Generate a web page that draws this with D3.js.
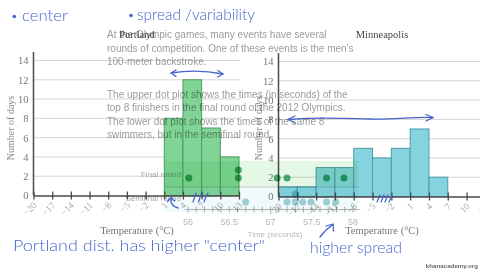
<!DOCTYPE html>
<html>
<head>
<meta charset="utf-8">
<script src="https://cdn.jsdelivr.net/npm/d3@7"></script>
<style>
  html, body { margin: 0; padding: 0; background: #fff; }
  svg { display: block; }
</style>
</head>
<body>
<svg id="chart" width="480" height="270"></svg>
<script>
// Temperature histograms: bin edges in °C (three degrees wide)
const binEdges = [-20, -17, -14, -11, -8, -5, -2, 1, 4, 7, 10, 13];
const portlandDays = [0, 0, 0, 0, 0, 0, 0, 8, 12, 7, 4];
const minneapolisDays = [1, 1, 3, 3, 5, 4, 5, 7, 2, 0, 0];
const dayTicks = [0, 2, 4, 6, 8, 10, 12, 14];
const panelTitles = ["Portland", "Minneapolis"];

// 100 m backstroke times (seconds) for the two dot plots
const finalTimes = [56.01, 56.61, 56.61, 57.08, 57.2, 57.68, 57.89];
const semifinalTimes = [56.7, 57.2, 57.3, 57.3, 57.39, 57.49, 57.68, 57.79];
const timeTicks = [56, 56.5, 57, 57.5, 58];
const rowLabels = ["Final round", "Semifinal round"];

// Exercise prompt text
const introLines = [
  "At the Olympic games, many events have several",
  "rounds of competition. One of these events is the men's",
  "100-meter backstroke."
];
const dotPlotLines = [
  "The upper dot plot shows the times (in seconds) of the",
  "top 8 finishers in the final round of the 2012 Olympics.",
  "The lower dot plot shows the times of the same 8",
  "swimmers, but in the semifinal round."
];

// Pen notes
const notes = {
  center: "center",
  spread: "spread /variability",
  portland: "Portland dist. has higher \"center\"",
  higher: "higher spread"
};

const svg = d3.select("#chart");
const serif = "'Liberation Serif', 'Times New Roman', serif";
const sans = "'Liberation Sans', Arial, sans-serif";
const axisInk = "#4a4a4a";

// ---------- two histogram panels ----------
const panels = [
  { title: panelTitles[0], days: portlandDays, fill: "#80d596", stroke: "#4f9a63",
    left: 33.5, right: 239, base: 195.5, top: 60.5, gridEnd: 240, cx: 137, yLabX: 10 },
  { title: panelTitles[1], days: minneapolisDays, fill: "#84d3df", stroke: "#4f9ba7",
    left: 278.5, right: 485.4, base: 196.5, top: 61.5, gridEnd: 480, cx: 382, yLabX: 258 }
];

panels.forEach(p => {
  const x = d3.scaleLinear().domain([binEdges[0], binEdges[binEdges.length - 1]]).range([p.left, p.right]);
  const y = d3.scaleLinear().domain([0, 14]).range([p.base, p.top]);
  const g = svg.append("g");

  g.selectAll("line.grid").data(dayTicks.slice(1)).join("line")
    .attr("class", "grid")
    .attr("x1", p.left).attr("x2", p.gridEnd)
    .attr("y1", d => y(d)).attr("y2", d => y(d))
    .attr("stroke", "#d5d5d5").attr("stroke-width", 1);

  const bins = p.days.map((v, i) => ({ x0: binEdges[i], x1: binEdges[i + 1], v })).filter(b => b.v > 0);
  g.selectAll("rect.bar").data(bins).join("rect")
    .attr("class", "bar")
    .attr("x", b => x(b.x0)).attr("width", b => x(b.x1) - x(b.x0))
    .attr("y", b => y(b.v)).attr("height", b => y(0) - y(b.v))
    .attr("fill", p.fill).attr("stroke", p.stroke).attr("stroke-width", 1);

  const ya = g.append("g").attr("transform", `translate(${p.left},0)`)
    .call(d3.axisLeft(y).tickValues(dayTicks).tickSize(0).tickPadding(5));
  ya.select(".domain").remove();
  ya.selectAll("text").attr("font-family", serif).attr("font-size", 10.5).attr("fill", "#777");
  g.append("line")
    .attr("x1", p.left).attr("x2", p.left).attr("y1", p.top - 8.5).attr("y2", p.base)
    .attr("stroke", axisInk).attr("stroke-width", 1.5);

  const xa = g.append("g").attr("transform", `translate(0,${p.base})`)
    .call(d3.axisBottom(x).tickValues(binEdges).tickSizeInner(4).tickSizeOuter(0));
  xa.select(".domain").attr("stroke", axisInk).attr("stroke-width", 1.5);
  xa.selectAll(".tick line").attr("y1", -4).attr("y2", 4).attr("stroke", axisInk).attr("stroke-width", 1.3);
  xa.selectAll(".tick text")
    .attr("x", 0).attr("y", 0).attr("dy", "0.35em")
    .attr("text-anchor", "end")
    .attr("transform", "translate(1,8) rotate(-45)")
    .attr("font-family", serif).attr("font-size", 9.5).attr("fill", "#aaa");

  g.append("text").attr("x", p.cx).attr("y", 37.5).attr("text-anchor", "middle")
    .attr("font-family", serif).attr("font-size", 10.5).attr("fill", "#444").text(p.title);
  g.append("text").attr("x", p.cx).attr("y", 234).attr("text-anchor", "middle")
    .attr("font-family", serif).attr("font-size", 10.5).attr("fill", "#777").text("Temperature (°C)");
  g.append("text").attr("transform", `translate(${p.yLabX},128) rotate(-90)`)
    .attr("text-anchor", "middle").attr("dy", "0.35em")
    .attr("font-family", serif).attr("font-size", 10).attr("fill", "#888").text("Number of days");
});

// ---------- faded exercise layer (prompt + dot plots) ----------
const ov = svg.append("g").style("mix-blend-mode", "multiply");

ov.selectAll("text.intro").data(introLines).join("text")
  .attr("class", "intro")
  .attr("x", 107).attr("y", (d, i) => 38 + i * 13.6)
  .attr("font-family", sans).attr("font-size", 10).attr("fill", "#9c9c9c").text(d => d);
ov.selectAll("text.prompt").data(dotPlotLines).join("text")
  .attr("class", "prompt")
  .attr("x", 107).attr("y", (d, i) => 97.5 + i * 13.6)
  .attr("font-family", sans).attr("font-size", 10).attr("fill", "#9c9c9c").text(d => d);

const t = d3.scaleLinear().domain([56, 58]).range([188, 353]);
const rowY = [178, 202];

// row bands
ov.append("rect").attr("x", 165).attr("y", 161).attr("width", 193).attr("height", 26)
  .attr("fill", "#dcf4dc").attr("opacity", 0.75);
ov.append("rect").attr("x", 165).attr("y", 187).attr("width", 193).attr("height", 25)
  .attr("fill", "#eaf6fa").attr("opacity", 0.7);
ov.append("line").attr("x1", 165).attr("x2", 358).attr("y1", 187).attr("y2", 187)
  .attr("stroke", "#c9c9c9").attr("stroke-width", 1);

ov.selectAll("text.row").data(rowLabels).join("text")
  .attr("class", "row")
  .attr("x", 181).attr("y", (d, i) => rowY[i] - 1)
  .attr("text-anchor", "end")
  .attr("font-family", sans).attr("font-size", 8).attr("fill", "#a8a8a8").text(d => d);

// time axis
const ta = ov.append("g").attr("transform", "translate(0,209.5)");
ta.append("line").attr("x1", t(55.96)).attr("x2", t(58.08)).attr("y1", 0).attr("y2", 0)
  .attr("stroke", "#b0b0b0").attr("stroke-width", 1);
ta.selectAll("line.tk").data(d3.range(560, 581).map(v => v / 10)).join("line")
  .attr("class", "tk")
  .attr("x1", d => t(d)).attr("x2", d => t(d)).attr("y1", -3).attr("y2", 3)
  .attr("stroke", "#a8a8a8").attr("stroke-width", 1);
ta.selectAll("text").data(timeTicks).join("text")
  .attr("x", d => t(d)).attr("y", 15).attr("text-anchor", "middle")
  .attr("font-family", sans).attr("font-size", 9).attr("fill", "#b8b8b8").text(d => d);
ov.append("text").attr("x", 275).attr("y", 237).attr("text-anchor", "middle")
  .attr("font-family", sans).attr("font-size", 8).attr("fill", "#b8b8b8").text("Time (seconds)");

// stacked dots
function stack(vals) {
  const seen = new Map();
  return vals.map(v => { const k = seen.get(v) || 0; seen.set(v, k + 1); return { v, k }; });
}
ov.selectAll("circle.final").data(stack(finalTimes)).join("circle")
  .attr("class", "final")
  .attr("cx", d => t(d.v)).attr("cy", d => rowY[0] - d.k * 8).attr("r", 3.5)
  .attr("fill", "#27a055").attr("opacity", 0.85);
ov.selectAll("circle.semi").data(stack(semifinalTimes)).join("circle")
  .attr("class", "semi")
  .attr("cx", d => t(d.v)).attr("cy", d => rowY[1] - d.k * 8).attr("r", 3.5)
  .attr("fill", "#2a8f9a").attr("opacity", 0.42);

// ---------- pen notes ----------
const ink = "#4664cc";
const pen = svg.append("g");
const hand = "Lato, 'Open Sans', sans-serif";

pen.append("circle").attr("cx", 14.3).attr("cy", 16.5).attr("r", 1.8).attr("fill", ink);
pen.append("circle").attr("cx", 131).attr("cy", 15.5).attr("r", 1.8).attr("fill", ink);

const noteText = (s, x, y, len, size) => pen.append("text")
  .attr("x", x).attr("y", y).attr("textLength", len).attr("lengthAdjust", "spacingAndGlyphs")
  .attr("font-family", hand).attr("font-weight", 300).attr("font-size", size).attr("fill", ink).text(s);
noteText(notes.center, 22, 21, 46, 16);
noteText(notes.spread, 137, 20, 118, 15);
noteText(notes.portland, 13, 250.5, 252, 16.5);
noteText(notes.higher, 310, 252.5, 92, 16.5);

const strokes = [
  // Portland span arrow
  "M171,73 Q197,69 223,74", "M176,70 L171,73 L176,76.5", "M218,70.5 L223,74 L217.5,77",
  // Minneapolis span arrow
  "M288,119.5 C320,117 345,118.5 370,119 S415,116.5 433,117.5", "M295,116 L288,119.5 L295,123", "M426,114.5 L433,117.5 L426,121",
  // small hook arrow and tally marks under Portland
  "M178,208 Q170,206 171,198.5", "M167.5,201.5 L171,197.5 L174.5,201",
  "M193,202 L196,193", "M198.5,202 L201.5,193", "M204,202 Q206,196 208,193",
  // tally marks under Minneapolis
  "M377,202 L380,195", "M381,202 L384,195", "M385,202 L388,195", "M389,202 L392,195",
  // arrow up to the spread
  "M320,237 Q325,230 333,224.5", "M326,226 L333,224 L333.5,231"
];
pen.selectAll("path").data(strokes).join("path")
  .attr("d", d => d).attr("fill", "none").attr("stroke", ink)
  .attr("stroke-width", 1.3).attr("stroke-linecap", "round").attr("stroke-linejoin", "round");

svg.append("text").attr("x", 478).attr("y", 268).attr("text-anchor", "end")
  .attr("font-family", sans).attr("font-size", 6.2).attr("font-weight", "bold").attr("fill", "#666")
  .text("khanacademy.org");
</script>
</body>
</html>
